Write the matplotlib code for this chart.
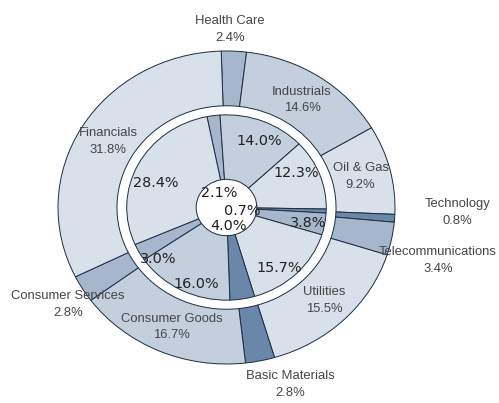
import numpy as np
import matplotlib
matplotlib.use('Agg')
import matplotlib.pyplot as plt

# sectors, clockwise from the top
sectors = ['Health Care', 'Industrials', 'Oil & Gas', 'Technology', 'Telecommunications',
           'Utilities', 'Basic Materials', 'Consumer Goods', 'Consumer Services', 'Financials']
outer_vals = [2.4, 14.6, 9.2, 0.8, 3.4, 15.5, 2.8, 16.7, 2.8, 31.8]
inner_vals = [2.1, 14.0, 12.3, 0.7, 3.8, 15.7, 4.0, 16.0, 3.0, 28.4]

light, medium, middark, dark = '#d8e0ea', '#c3cfdd', '#a6b7cd', '#6a87aa'
colors = [middark, medium, light, dark, middark, light, dark, medium, middark, light]
edge = '#1e2d40'

# label placement: distance from centre and angle nudge (degrees)
outer_dist = [1.14, 0.82, 0.82, 1.37, 1.30, 0.83, 1.195, 0.83, 1.124, 0.82]
outer_nudge = [1.4, 0, 0, 2.5, -3.7, 0, 6.9, 0.5, 2, 0]
inner_dist = [0.10, 0.466, 0.467, 0.095, 0.494, 0.496, 0.118, 0.52, 0.523, 0.446]
inner_nudge = [18.5, -3, 7, -11, -1.2, -5.6, -4.7, 7, 10, 7]

fig = plt.figure(figsize=(4.99, 4.03), dpi=100)
ax = fig.add_axes([58 / 499, 39 / 403, 337 / 499, 313 / 403])

wo, _ = ax.pie(outer_vals, radius=1.0, colors=colors, startangle=91.8, counterclock=False,
               wedgeprops=dict(width=0.35, edgecolor=edge, linewidth=0.7))
wi, _ = ax.pie(inner_vals, radius=0.592, colors=colors, startangle=101.3, counterclock=False,
               wedgeprops=dict(width=0.412, edgecolor=edge, linewidth=0.7))
ax.set_aspect('auto')
ax.set_xlim(-1, 1)
ax.set_ylim(-1, 1)

for w, name, v, r, dn in zip(wo, sectors, outer_vals, outer_dist, outer_nudge):
    th = np.deg2rad((w.theta1 + w.theta2) / 2 + dn)
    ax.text(r * np.cos(th), r * np.sin(th), f'{name}\n{v:.1f}%', ha='center', va='center',
            fontsize=9.4, color='#454545', family='Liberation Sans', linespacing=1.55)

for w, v, r, dn in zip(wi, inner_vals, inner_dist, inner_nudge):
    th = np.deg2rad((w.theta1 + w.theta2) / 2 + dn)
    ax.text(r * np.cos(th), r * np.sin(th), f'{v:.1f}%', ha='center', va='center',
            fontsize=10.4, color='#222222', family='DejaVu Sans')

fig.savefig('out.png', dpi=100)
